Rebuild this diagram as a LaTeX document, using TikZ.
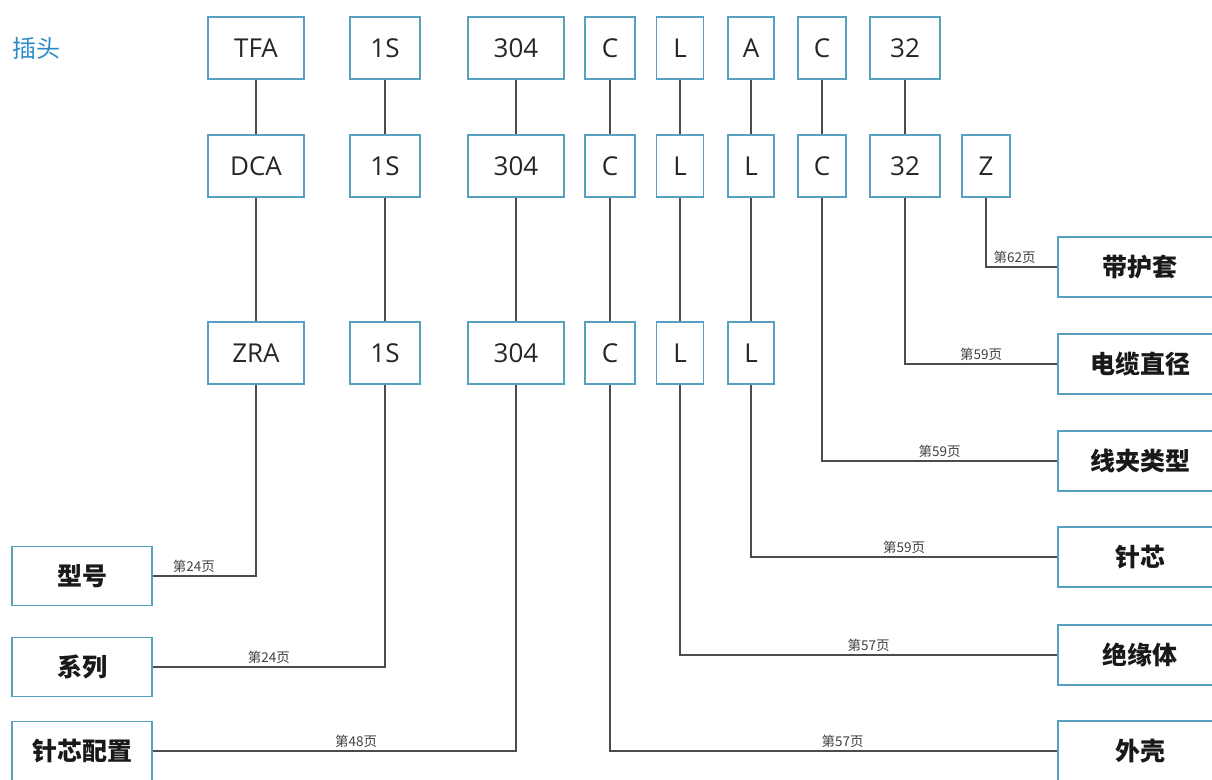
\documentclass[tikz,border=0pt]{standalone}
\usepackage{fontspec}
\setmainfont{Open Sans}
\newfontfamily\cjk{Noto Sans CJK SC}
\definecolor{boxblue}{RGB}{88,160,192}
\definecolor{headblue}{RGB}{45,140,200}
\definecolor{wiregray}{RGB}{75,75,75}

\begin{document}
\begin{tikzpicture}[x=1pt,y=-1pt,
    code/.style={draw=boxblue,line width=1.3pt,minimum height=62pt,inner sep=0pt,
      text=black!85,font=\fontsize{26}{26}\selectfont},
    field/.style={draw=boxblue,line width=1.3pt,minimum height=59pt,inner sep=0pt,
      text=black!90,font=\cjk\bfseries\fontsize{25}{25}\selectfont},
    wire/.style={draw=wiregray,line width=1.2pt},
    pg/.style={above=2pt,inner sep=1pt,text=black!75,font=\cjk\fontsize{13.5}{13.5}\selectfont}]
    \useasboundingbox (0,0) rectangle (1212,779);

    % Title
    \node[text=headblue,font=\cjk\fontsize{24}{24}\selectfont,anchor=west,inner sep=0pt] (title) at (12,48) {插头};

    % Three rows of codes
    \foreach \n/\x/\w/\t in {1/256/96/TFA,2/385/70/1S,3/516/96/304,4/610/50/C,
                             5/680/47/L,6/751/46/A,7/822/48/C,8/905/70/32}
      \node[code,minimum width=\w pt] (a\n) at (\x,48) {\t};
    \foreach \n/\x/\w/\t in {1/256/96/DCA,2/385/70/1S,3/516/96/304,4/610/50/C,
                             5/680/47/L,6/751/46/L,7/822/48/C,8/905/70/32,9/986/48/Z}
      \node[code,minimum width=\w pt] (b\n) at (\x,166) {\t};
    \foreach \n/\x/\w/\t in {1/256/96/ZRA,2/385/70/1S,3/516/96/304,4/610/50/C,
                             5/680/47/L,6/751/46/L}
      \node[code,minimum width=\w pt] (c\n) at (\x,353) {\t};

    \foreach \i in {1,...,8}
      \draw[wire] (a\i) -- (b\i);
    \foreach \i in {1,...,6}
      \draw[wire] (b\i) -- (c\i);

    % Left fields
    \node[field,minimum width=140pt] (xinghao) at (82,576) {型号};
    \node[field,minimum width=140pt] (xilie) at (82,667) {系列};
    \node[field,minimum width=140pt] (peizhi) at (82,751) {针芯配置};

    % Right fields
    \node[field,minimum width=164pt,minimum height=60pt] (hutao) at (1140,267) {带护套};
    \node[field,minimum width=164pt,minimum height=60pt] (dianlan) at (1140,364) {电缆直径};
    \node[field,minimum width=164pt,minimum height=60pt] (xianjia) at (1140,461) {线夹类型};
    \node[field,minimum width=164pt,minimum height=60pt] (zhenxin) at (1140,557) {针芯};
    \node[field,minimum width=164pt,minimum height=60pt] (jueyuan) at (1140,655) {绝缘体};
    \node[field,minimum width=164pt,minimum height=60pt] (waike) at (1140,751) {外壳};

    % Page references
    \draw[wire] (xinghao) -| (c1) node[pg,pos=0.2] {第24页};
    \draw[wire] (xilie) -| (c2) node[pg,pos=0.25] {第24页};
    \draw[wire] (peizhi) -| (c3) node[pg,pos=0.28] {第48页};
    \draw[wire] (b9) |- (hutao) node[pg,pos=0.7] {第62页};
    \draw[wire] (b8) |- (dianlan) node[pg,pos=0.75] {第59页};
    \draw[wire] (b7) |- (xianjia) node[pg,pos=0.75] {第59页};
    \draw[wire] (c6) |- (zhenxin) node[pg,pos=0.75] {第59页};
    \draw[wire] (c5) |- (jueyuan) node[pg,pos=0.75] {第57页};
    \draw[wire] (c4) |- (waike) node[pg,pos=0.76] {第57页};
  \end{tikzpicture}
\end{document}
